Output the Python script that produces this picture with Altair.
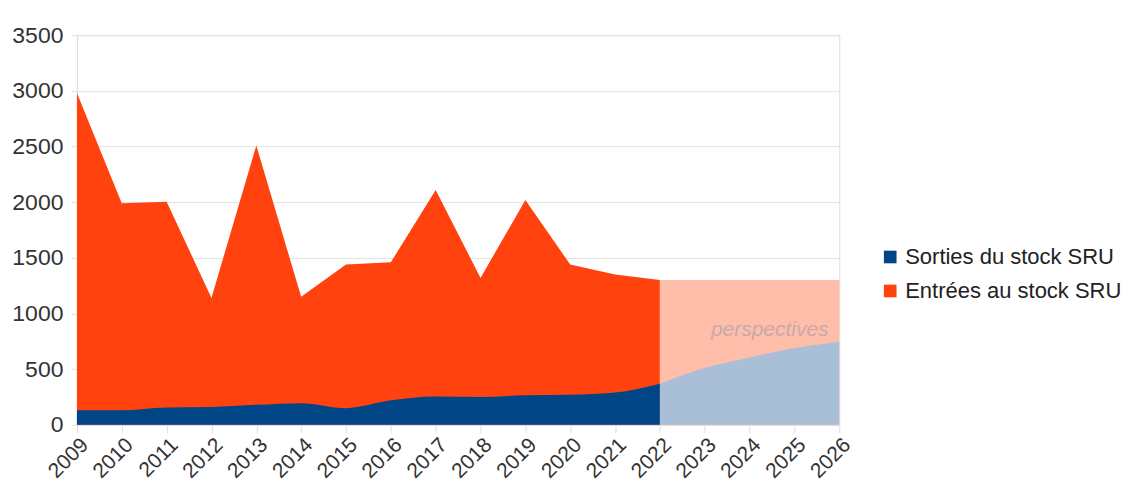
import altair as alt
import pandas as pd

years_hist = list(range(2009, 2023))
entrees = [2980, 1990, 2005, 1140, 2510, 1150, 1440, 1460, 2110, 1320, 2020, 1440, 1350, 1300]
sorties = [130, 130, 155, 160, 180, 195, 150, 220, 255, 250, 265, 270, 290, 370]

years_persp = [2022, 2023, 2024, 2025, 2026]
entrees_persp = [1300, 1300, 1300, 1300, 1300]
sorties_persp = [370, 510, 605, 690, 745]

S_LABEL = "Sorties du stock SRU"
E_LABEL = "Entrées au stock SRU"

df_e = pd.DataFrame({"year": years_hist, "value": entrees, "series": E_LABEL})
df_s = pd.DataFrame({"year": years_hist, "value": sorties, "series": S_LABEL})
df_ep = pd.DataFrame({"year": years_persp, "value": entrees_persp})
df_sp = pd.DataFrame({"year": years_persp, "value": sorties_persp})

FONT = "Liberation Sans"
x_enc = alt.X(
    "year:Q",
    scale=alt.Scale(domain=[2009, 2026], nice=False, zero=False),
    axis=alt.Axis(
        values=list(range(2009, 2027)), format="d", labelAngle=-45, labelAlign="right",
        labelBaseline="top", labelFontSize=21, labelColor="#333333", labelFont=FONT,
        labelOverlap=False, labelFlush=False,
        grid=False, ticks=True, tickColor="#dddddd", tickSize=8, domainColor="#dddddd",
        labelPadding=1, title=None,
    ),
)
y_enc = alt.Y(
    "value:Q",
    scale=alt.Scale(domain=[0, 3500], nice=False),
    axis=alt.Axis(
        values=list(range(0, 3501, 500)), format="d", labelFontSize=23, labelColor="#333333",
        labelFont=FONT, grid=True, gridColor="#e3e3e3", domainColor="#dddddd",
        labelOverlap=False, labelFlush=False,
        ticks=True, tickColor="#e3e3e3", tickSize=6, labelPadding=8, title=None,
    ),
)
color_scale = alt.Scale(domain=[S_LABEL, E_LABEL], range=["#004586", "#ff420e"])
legend = alt.Legend(
    title=None, orient="none", legendX=803, legendY=211, symbolType="square",
    symbolSize=160, labelFontSize=22, labelFont=FONT, labelColor="#222222",
    labelLimit=0, rowPadding=12, symbolStrokeWidth=0,
)

orange = alt.Chart(df_e).mark_area(line=False, opacity=1).encode(
    x=x_enc, y=y_enc,
    color=alt.Color("series:N", scale=color_scale, legend=legend),
)
orange_p = alt.Chart(df_ep).mark_area(color="#ffbea9", opacity=1).encode(x=x_enc, y=y_enc)
blue = alt.Chart(df_s).mark_area(interpolate="monotone", opacity=1).encode(
    x=x_enc, y=y_enc,
    color=alt.Color("series:N", scale=color_scale, legend=legend),
)
blue_p = alt.Chart(df_sp).mark_area(color="#a9bfd7", interpolate="monotone", opacity=1).encode(
    x=x_enc, y=y_enc
)
label = alt.Chart(pd.DataFrame({"year": [2024.45], "value": [855], "t": ["perspectives"]})).mark_text(
    fontStyle="italic", fontSize=21, font=FONT, color="#c9a9ad"
).encode(x=alt.X("year:Q"), y=alt.Y("value:Q"), text="t:N")

chart = alt.layer(orange, orange_p, blue, blue_p, label).properties(
    width=763, height=390,
    autosize=alt.AutoSizeParams(type="none"),
    padding={"left": 69, "top": 27, "right": 290, "bottom": 60},
).configure_view(stroke="#e6e6e6").configure(background="white")

chart.save("out.html", embed_options={"renderer": "svg", "actions": False})
